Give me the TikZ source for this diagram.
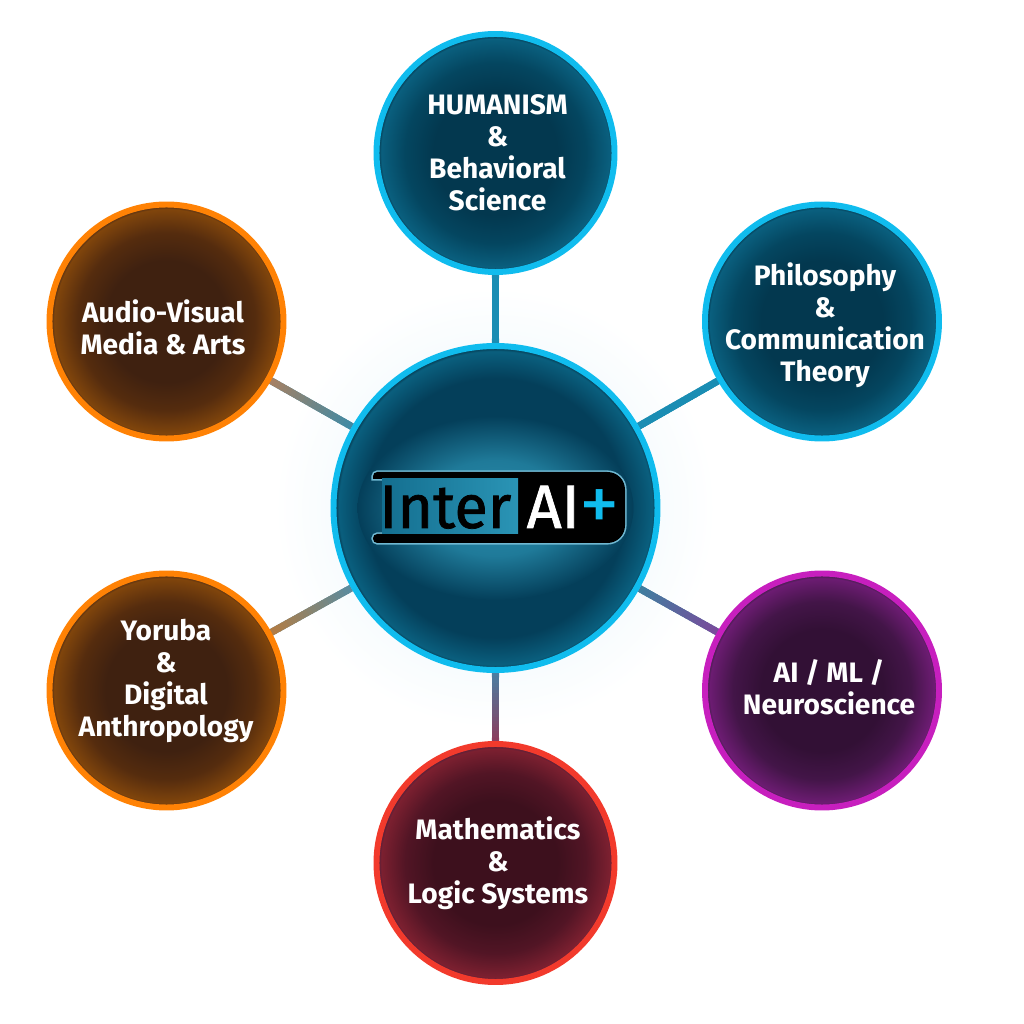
\documentclass[tikz,border=0pt]{standalone}
\usepackage{fontspec}
\setmainfont{Fira Sans}
\newfontfamily\logofont[FakeBold=1.2]{Fira Sans}
\usetikzlibrary{backgrounds,calc}
\definecolor{bluering}{HTML}{10BCEE}
\definecolor{orangering}{HTML}{FF8205}
\definecolor{purplering}{HTML}{C71FBE}
\definecolor{redring}{HTML}{F23A2C}
\definecolor{logoblue}{HTML}{2A94B5}
\definecolor{logodim}{HTML}{146F90}
\definecolor{logoglow}{HTML}{6FB8D2}
% Hub end and topic end of each connector
\definecolor{humanA}{HTML}{1A8DB3}\definecolor{humanB}{HTML}{1A8DB3}
\definecolor{philoA}{HTML}{1A8DB3}\definecolor{philoB}{HTML}{1A8DB3}
\definecolor{neuroA}{HTML}{3F7F9F}\definecolor{neuroB}{HTML}{7B4A9C}
\definecolor{mathsA}{HTML}{4A7FA2}\definecolor{mathsB}{HTML}{8C3B5C}
\definecolor{yorubaA}{HTML}{5A8CA0}\definecolor{yorubaB}{HTML}{B47C42}
\definecolor{mediaA}{HTML}{3F8AA5}\definecolor{mediaB}{HTML}{A78062}
% Radial fills
\definecolor{bA}{HTML}{03384F}\definecolor{bB}{HTML}{044660}\definecolor{bC}{HTML}{0A5F7E}\definecolor{bD}{HTML}{07465F}
\definecolor{hA}{HTML}{2A8CAD}\definecolor{hB}{HTML}{1F7A99}\definecolor{hC}{HTML}{043F5A}
\definecolor{oA}{HTML}{3F2110}\definecolor{oB}{HTML}{552C0E}\definecolor{oC}{HTML}{80450C}\definecolor{oD}{HTML}{603512}
\definecolor{pA}{HTML}{321035}\definecolor{pB}{HTML}{431548}\definecolor{pC}{HTML}{6C1C72}\definecolor{pD}{HTML}{4E1E55}
\definecolor{rA}{HTML}{3D101D}\definecolor{rB}{HTML}{521525}\definecolor{rC}{HTML}{7C2030}\definecolor{rD}{HTML}{5E2038}
\definecolor{gA}{HTML}{F3FAFD}
\pgfdeclareradialshading{bluefill}{\pgfpoint{0bp}{0bp}}{color(0bp)=(bA);color(13bp)=(bA);color(19bp)=(bB);color(24bp)=(bC);color(24.4bp)=(bD);color(50bp)=(bD)}
\pgfdeclareradialshading{hubfill}{\pgfpoint{0bp}{0bp}}{color(0bp)=(hC);color(20bp)=(hC);color(24.2bp)=(bC);color(24.5bp)=(bD);color(50bp)=(bD)}
\pgfdeclareradialshading{orangefill}{\pgfpoint{0bp}{0bp}}{color(0bp)=(oA);color(13bp)=(oA);color(19bp)=(oB);color(24bp)=(oC);color(24.4bp)=(oD);color(50bp)=(oD)}
\pgfdeclareradialshading{purplefill}{\pgfpoint{0bp}{0bp}}{color(0bp)=(pA);color(13bp)=(pA);color(19bp)=(pB);color(24bp)=(pC);color(24.4bp)=(pD);color(50bp)=(pD)}
\pgfdeclareradialshading{redfill}{\pgfpoint{0bp}{0bp}}{color(0bp)=(rA);color(13bp)=(rA);color(19bp)=(rB);color(24bp)=(rC);color(24.4bp)=(rD);color(50bp)=(rD)}
\pgfdeclareradialshading{hubglow}{\pgfpoint{0bp}{0bp}}{color(0bp)=(gA);color(14bp)=(gA);color(24bp)=(white);color(50bp)=(white)}
\pgfdeclareradialshading{logohalo}{\pgfpoint{0bp}{0bp}}{color(0bp)=(hA);color(13bp)=(hB);color(25bp)=(hC);color(50bp)=(hC)}
\tikzset{
    topic/.style={circle, inner sep=0pt, minimum size=2.34cm, line width=1.7pt},
    bigtopic/.style={minimum size=2.38cm},
    bluetopic/.style={topic, draw=bluering, shading=bluefill},
    orangetopic/.style={topic, draw=orangering, shading=orangefill},
    purpletopic/.style={topic, draw=purplering, shading=purplefill},
    redtopic/.style={topic, draw=redring, shading=redfill},
    caption/.style={align=center, inner sep=0pt, text=white, font=\fontsize{8}{9.1}\selectfont\bfseries},
    link/.style={line width=2pt},
    logobar/.style={fill=black, preaction={draw=logoglow, line width=0.9pt}},
    logotext/.style={inner sep=0pt, font=\fontsize{17.4}{18}\logofont},
}
\begin{document}
\begin{tikzpicture}
\useasboundingbox (0,0) rectangle (10.24,10.24);
% Hub
\node[circle, inner sep=0pt, minimum size=3.24cm, line width=1.7pt, draw=bluering, shading=hubfill] (hub) at (4.955,5.16) {};
\shade[shading=logohalo] (hub.center) ellipse (1.38 and 0.92);

% Logo
\path[logobar] [rounded corners=1.2pt] (3.73,5.45) -- (3.73,5.52) [rounded corners=5pt] -- (6.25,5.52) -- (6.25,4.81)
    [rounded corners=1.2pt] -- (3.73,4.81) -- (3.73,4.90) [sharp corners] -- (5.18,4.90) -- (5.18,5.45) -- cycle;
\shade[left color=logodim, right color=logoblue] (3.82,4.90) rectangle (5.18,5.45);
\node[logotext, text=black, anchor=base east] (inter) at (5.12,4.96) {Inter};
\node[logotext, text=white, anchor=base west] (ai) at (5.26,4.96) {AI};
\node[inner sep=0pt, text=bluering, font=\fontsize{23}{23}\selectfont] (plus) at (6.00,5.13) {+};

% Topics
\node[bluetopic, bigtopic] (human) at (4.955,8.71) {};
\node[caption] at (4.975,8.71) {HUMANISM\\\&\\Behavioral\\Science};
\node[bluetopic] (philo) at (8.22,7.025) {};
\node[caption] at (8.25,6.985) {Philosophy\\\&\\Communication\\Theory};
\node[purpletopic] (neuro) at (8.22,3.335) {};
\node[caption] at (8.29,3.365) {AI / ML /\\Neuroscience};
\node[redtopic, bigtopic] (maths) at (4.955,1.61) {};
\node[caption] at (4.98,1.61) {Mathematics\\\&\\Logic Systems};
\node[orangetopic] (yoruba) at (1.665,3.335) {};
\node[caption] at (1.66,3.435) {Yoruba\\\&\\Digital\\Anthropology};
\node[orangetopic] (media) at (1.665,7.025) {};
\node[caption] at (1.63,6.97) {Audio-Visual\\Media \& Arts};

\begin{scope}[on background layer]
% Soft halo round the hub
\shade[shading=hubglow] (2.65,2.86) rectangle (7.25,7.46);
% Connectors, colour runs from hub to topic
\foreach \topicname in {human,philo,neuro,maths,yoruba,media} {
    \draw[link, \topicname A] (hub) -- (\topicname) coordinate[pos=0] (s) coordinate[pos=1] (e);
    \foreach \t in {0,...,19} {
        \pgfmathsetmacro{\ta}{\t/20}
        \pgfmathsetmacro{\tb}{(\t+1.3)/20}
        \pgfmathtruncatemacro{\pc}{\t*5+2}
        \draw[link, \topicname B!\pc!\topicname A] ($(s)!\ta!(e)$) -- ($(s)!\tb!(e)$);
    }
}
\end{scope}
\end{tikzpicture}
\end{document}
